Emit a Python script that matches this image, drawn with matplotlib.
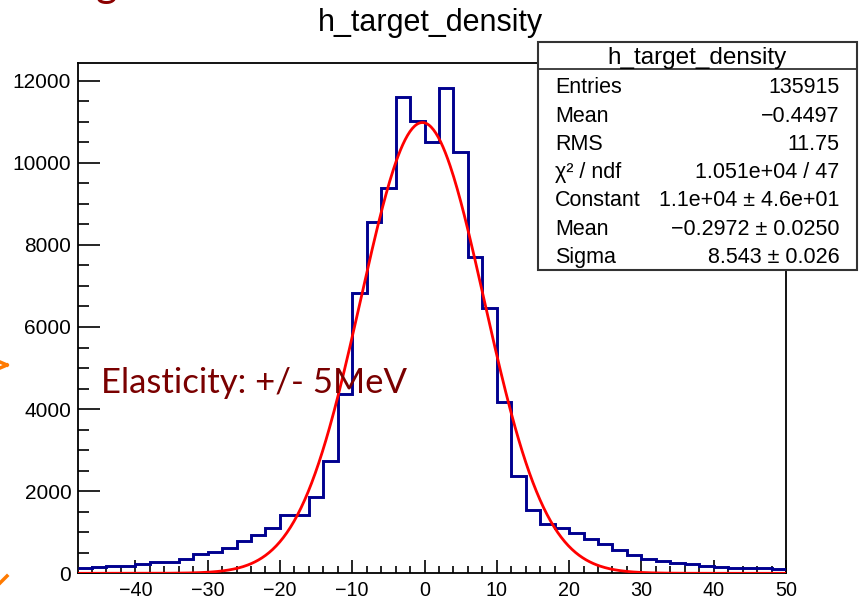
import matplotlib as mpl
import matplotlib.pyplot as plt
import numpy as np
from matplotlib.lines import Line2D
from matplotlib.patches import Rectangle

mpl.rcParams.update({
    "font.family": ["Liberation Sans", "DejaVu Sans"],
    "axes.linewidth": 1.3,
    "xtick.direction": "in",
    "ytick.direction": "in",
})

W, H = 859, 602

# histogram (2-unit bins from -48 to 50)
bin_edges = np.arange(-48, 52, 2)
counts = [
    120, 160, 170, 180, 215, 265, 275, 350, 470, 510,
    625, 795, 925, 1095, 1410, 1430, 1865, 2745, 4370, 6835,
    8565, 9395, 11595, 11018, 10500, 11830, 10270, 7713, 6455, 4165,
    2378, 1542, 1200, 1095, 975, 828, 714, 568, 446, 348,
    308, 260, 219, 178, 154, 140, 130, 120, 110,
]

# gaussian fit parameters
fit_const = 10980.0
fit_mean = -0.2972
fit_sigma = 8.543

stat_labels = ["Entries", "Mean", "RMS", "χ² / ndf", "Constant", "Mean", "Sigma"]
stat_values = ["135915", "−0.4497", "11.75", "1.051e+04 / 47",
               "1.1e+04 ± 4.6e+01", "−0.2972 ± 0.0250", "8.543 ± 0.026"]


def px(x, y):
    """pixel position (from top-left) -> figure fraction"""
    return x / W, 1 - y / H


fig = plt.figure(figsize=(W / 100, H / 100), dpi=100)
x0, y1 = px(77.5, 63)
x1, y0 = px(786, 573.3)
ax = fig.add_axes([x0, y0, x1 - x0, y1 - y0])

ax.stairs(counts, bin_edges, baseline=None, color="#00008f", linewidth=2.1, zorder=3)

xf = np.linspace(-48, 50, 600)
yf = fit_const * np.exp(-0.5 * ((xf - fit_mean) / fit_sigma) ** 2)
ax.plot(xf, yf, color="#ff0000", linewidth=2.0, zorder=4)

ax.set_xlim(-48, 50)
ax.set_ylim(0, 12430)
ax.set_xticks(np.arange(-40, 51, 10))
ax.set_xticks(np.arange(-46, 50, 2), minor=True)
ax.set_yticks(np.arange(0, 12001, 2000))
ax.set_yticks(np.arange(0, 12430, 500), minor=True)
ax.tick_params(axis="x", which="major", length=9.5, width=1.2, labelsize=14.2, pad=5.5)
ax.tick_params(axis="x", which="minor", length=5, width=1.2)
ax.tick_params(axis="y", which="major", length=15.5, width=1.2, labelsize=15, pad=4.5)
ax.tick_params(axis="y", which="minor", length=8, width=1.2)

fig.text(*px(430, 31), "h_target_density", ha="center", va="baseline", fontsize=22)

# stats box
bx0, by1 = px(538.3, 41.7)
bx1, by0 = px(856.7, 270)
fig.add_artist(Rectangle((bx0, by0), bx1 - bx0, by1 - by0, transform=fig.transFigure,
                         facecolor="white", edgecolor="#333333", linewidth=1.5, zorder=5))
sx0, sy = px(538.3, 69.3)
fig.add_artist(Line2D([bx0, bx1], [sy, sy], transform=fig.transFigure,
                      color="#333333", linewidth=1.3, zorder=6))
fig.text(*px(697, 64), "h_target_density", ha="center", va="baseline",
         fontsize=17.5, zorder=7)
for i, (lab, val) in enumerate(zip(stat_labels, stat_values)):
    yb = 93.3 + i * 28.3
    fig.text(*px(555, yb), lab, ha="left", va="baseline", fontsize=15.5, zorder=7)
    fig.text(*px(839.3, yb), val, ha="right", va="baseline", fontsize=15.5, zorder=7)

# slide overlay bits
fig.text(*px(101, 392.7), "Elasticity: +/- 5MeV", ha="left", va="baseline",
         fontsize=25, color="#7a0000", family=["Lato", "DejaVu Sans"], zorder=8)
fig.text(*px(96, -3), "g", ha="left", va="baseline", fontsize=30,
         color="#8b0000", family=["Lato", "DejaVu Sans"])
fig.add_artist(Line2D([0 / W, 7 / W], [1 - 362 / H, 1 - 365 / H], transform=fig.transFigure,
                      color="#ff7a00", linewidth=2.5))
fig.add_artist(Line2D([0 / W, 7 / W], [1 - 368 / H, 1 - 365 / H], transform=fig.transFigure,
                      color="#ff7a00", linewidth=2.5))
fig.add_artist(Line2D([0 / W, 7 / W], [1 - 583 / H, 1 - 576 / H], transform=fig.transFigure,
                      color="#ff7a00", linewidth=2.5))

fig.savefig("out.png", dpi=100)
